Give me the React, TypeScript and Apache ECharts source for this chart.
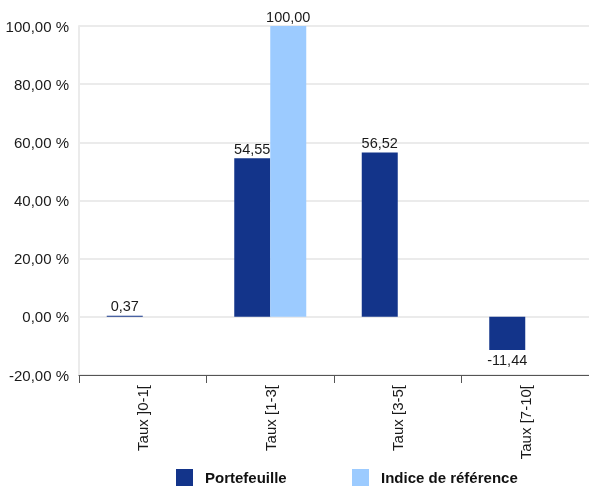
import React, { useEffect, useRef } from "react";
import * as echarts from "echarts";

const categories = ["Taux ]0-1[", "Taux [1-3[", "Taux [3-5[", "Taux [7-10["];
const portefeuille = [0.37, 54.55, 56.52, -11.44];
const indice = [0, 100, 0, 0];
const seriesNames = ["Portefeuille", "Indice de référence"];
const yTicks = { min: -20, max: 100, interval: 20 };

const fmt = (v: number) => v.toFixed(2).replace(".", ",");

export default function App() {
  const ref = useRef<HTMLDivElement>(null);
  useEffect(() => {
    if (!ref.current) return;
    const chart = echarts.init(ref.current, undefined, { renderer: "svg" });
    const font = "Liberation Sans, Arial, sans-serif";
    const mkData = (arr: number[]) =>
      arr.map((v) => ({
        value: v,
        label: {
          show: v !== 0,
          position: v < 0 ? "bottom" : "top",
        },
      }));
    const legendText = {
      fontFamily: font,
      fontSize: 15,
      fontWeight: "bold" as const,
      color: "#111",
      padding: [0, 0, 0, 7],
    };
    chart.setOption({
      animation: false,
      grid: { left: 79, right: 0, top: 26, bottom: 112, containLabel: false },
      legend: [
        {
          data: [seriesNames[0]],
          left: 176,
          top: 469,
          padding: 0,
          itemWidth: 17,
          itemHeight: 17,
          icon: "rect",
          textStyle: legendText,
        },
        {
          data: [seriesNames[1]],
          left: 352,
          top: 469,
          padding: 0,
          itemWidth: 17,
          itemHeight: 17,
          icon: "rect",
          textStyle: legendText,
        },
      ],
      xAxis: {
        type: "category",
        data: categories,
        axisLine: { onZero: false, lineStyle: { color: "#555", width: 1 } },
        axisTick: { show: true, length: 8, lineStyle: { color: "#555" } },
        axisLabel: {
          rotate: 90,
          margin: 10,
          fontFamily: font,
          fontSize: 15,
          color: "#1a1a1a",
        },
        splitLine: { show: false },
      },
      yAxis: {
        type: "value",
        min: yTicks.min,
        max: yTicks.max,
        interval: yTicks.interval,
        axisLine: { show: true, lineStyle: { color: "#ebebeb", width: 2 } },
        axisTick: { show: false },
        axisLabel: {
          margin: 10,
          fontFamily: font,
          fontSize: 15,
          color: "#1a1a1a",
          formatter: (v: number) => fmt(v) + " %",
        },
        splitLine: { show: true, lineStyle: { color: "#ebebeb", width: 2 } },
      },
      series: [
        {
          name: seriesNames[0],
          type: "bar",
          data: mkData(portefeuille),
          barWidth: 36,
          barGap: "0%",
          itemStyle: { color: "#13348a" },
          label: {
            fontFamily: font,
            fontSize: 14.5,
            color: "#1a1a1a",
            distance: 2,
            formatter: (p: any) => fmt(p.value),
          },
        },
        {
          name: seriesNames[1],
          type: "bar",
          data: mkData(indice),
          barWidth: 36,
          barGap: "0%",
          itemStyle: { color: "#9ccbff" },
          label: {
            fontFamily: font,
            fontSize: 14.5,
            color: "#1a1a1a",
            distance: 2,
            formatter: (p: any) => fmt(p.value),
          },
        },
      ],
    });
    return () => chart.dispose();
  }, []);
  return (
    <div
      ref={ref}
      style={{ position: "fixed", left: 0, top: 0, width: 589, height: 487 }}
    />
  );
}
